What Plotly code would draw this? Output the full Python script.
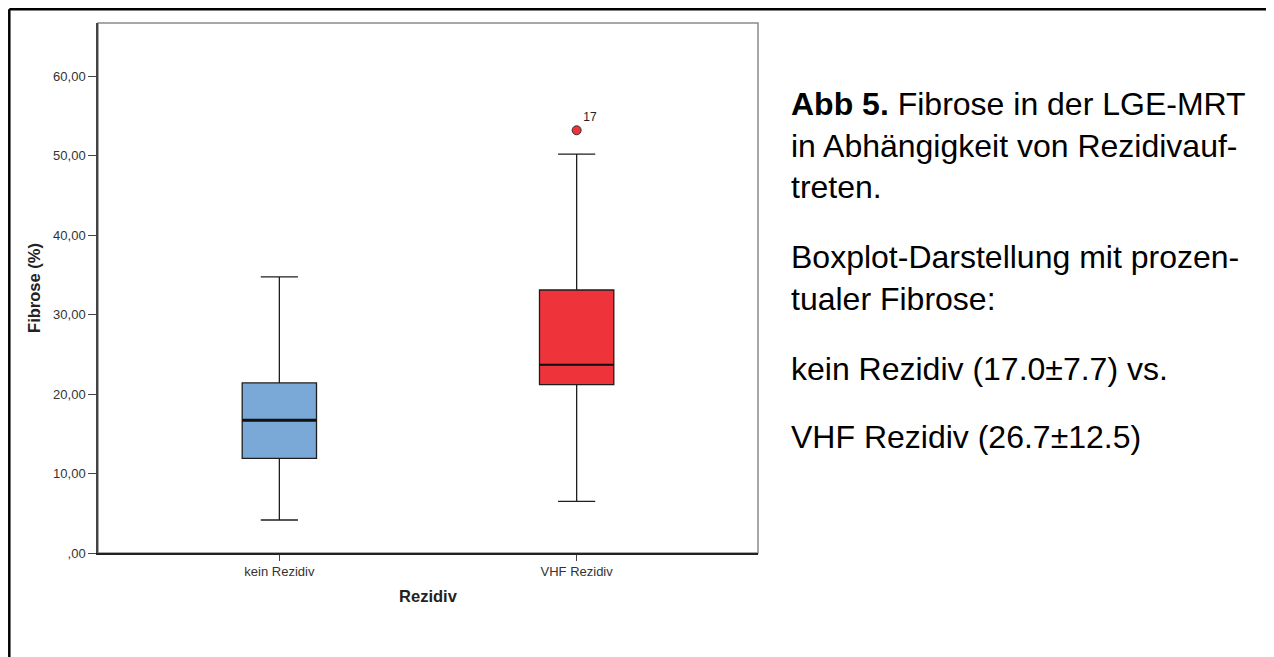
import plotly.graph_objects as go

# ---- data ----
categories = ["kein Rezidiv", "VHF Rezidiv"]
q1_vals = [11.9, 21.2]
median_vals = [16.7, 23.7]
q3_vals = [21.4, 33.1]
lower_whisker = [4.15, 6.5]
upper_whisker = [34.75, 50.2]
box_colors = ["#7AA9D7", "#EF333B"]

outlier_category = ["VHF Rezidiv"]
outlier_values = [53.2]
outlier_labels = ["17"]

y_tick_vals = [0, 10, 20, 30, 40, 50, 60]
y_tick_text = [",00", "10,00", "20,00", "30,00", "40,00", "50,00", "60,00"]

caption_lines = [
    ("<b>Abb 5.</b> Fibrose in der LGE-MRT", 115),
    ("in Abhängigkeit von Rezidivauf-", 157),
    ("treten.", 198),
    ("Boxplot-Darstellung mit prozen-", 268),
    ("tualer Fibrose:", 310),
    ("kein Rezidiv (17.0±7.7) vs.", 380),
    ("VHF Rezidiv (26.7±12.5)", 448),
]

# ---- layout geometry (page pixels; the page body has an 8px margin) ----
OFF = 8
W, H = 1274 - OFF, 657 - OFF
PL, PR, PT, PB = 98 - OFF, 758 - OFF, 23 - OFF, 553 - OFF
pw, ph = PR - PL, PB - PT


def px_x(p):
    return (p - OFF - PL) / pw


def px_y(p):
    return (PB - (p - OFF)) / ph


FONT = "Liberation Sans, Arial, sans-serif"
BOX_W = 0.25

fig = go.Figure()
for i, cat in enumerate(categories):
    fig.add_trace(go.Box(
        x=[cat], q1=[q1_vals[i]], median=[median_vals[i]], q3=[q3_vals[i]],
        lowerfence=[lower_whisker[i]], upperfence=[upper_whisker[i]],
        fillcolor=box_colors[i], line=dict(color="#1e1e1e", width=1.3),
        width=BOX_W, whiskerwidth=0.5, boxpoints=False, showlegend=False,
        hoverinfo="skip",
    ))

fig.add_trace(go.Scatter(
    x=outlier_category, y=outlier_values, mode="markers+text",
    text=outlier_labels, textposition="top right",
    textfont=dict(family=FONT, size=12, color="#222"),
    marker=dict(size=9, color="#EF333B", line=dict(color="#333", width=1)),
    showlegend=False, hoverinfo="skip",
))

shapes = []
for i, cat in enumerate(categories):
    shapes.append(dict(type="line", xref="x", yref="y",
                       x0=i - BOX_W / 2, x1=i + BOX_W / 2,
                       y0=median_vals[i], y1=median_vals[i],
                       line=dict(color="#111", width=3 if i == 0 else 2)))
shapes.append(dict(type="rect", xref="paper", yref="paper", x0=0, x1=1, y0=0, y1=1,
                   line=dict(color="#8a8a8a", width=1.5), layer="below"))
BORDER = 9.3
shapes.append(dict(type="line", xref="paper", yref="paper",
                   x0=px_x(BORDER), x1=px_x(1280), y0=px_y(BORDER), y1=px_y(BORDER),
                   line=dict(color="black", width=2.5)))
shapes.append(dict(type="line", xref="paper", yref="paper",
                   x0=px_x(BORDER), x1=px_x(BORDER), y0=px_y(BORDER), y1=px_y(665),
                   line=dict(color="black", width=2.5)))

annotations = []
CAP_SIZE = 32
for txt, base in caption_lines:
    annotations.append(dict(
        text=txt, xref="paper", yref="paper", x=px_x(789), y=px_y(base - 0.35 * CAP_SIZE),
        xanchor="left", yanchor="middle", showarrow=False, align="left",
        font=dict(family=FONT, size=CAP_SIZE, color="black"),
    ))

fig.update_layout(
    width=W, height=H,
    margin=dict(l=PL, r=W - PR, t=PT, b=H - PB, pad=0),
    paper_bgcolor="white", plot_bgcolor="white",
    shapes=shapes, annotations=annotations,
    xaxis=dict(
        type="category", range=[-0.61, 1.61], showgrid=False, zeroline=False,
        showline=True, linecolor="#222", linewidth=1.5,
        ticks="outside", ticklen=6, tickwidth=1.3, tickcolor="#444",
        tickfont=dict(family=FONT, size=13, color="#333"),
        title=dict(text="<b>Rezidiv</b>", standoff=12,
                   font=dict(family=FONT, size=16.5, color="#222")),
        fixedrange=True,
    ),
    yaxis=dict(
        range=[0, 66.7], showgrid=False, zeroline=False,
        showline=True, linecolor="#444", linewidth=1.5,
        tickvals=y_tick_vals, ticktext=y_tick_text,
        ticks="outside", ticklen=8, tickwidth=1.3, tickcolor="#444",
        tickfont=dict(family=FONT, size=13, color="#333"),
        title=dict(text="<b>Fibrose (%)</b>", standoff=8,
                   font=dict(family=FONT, size=16.5, color="#222")),
        fixedrange=True,
    ),
)

fig.write_html("out.html")
